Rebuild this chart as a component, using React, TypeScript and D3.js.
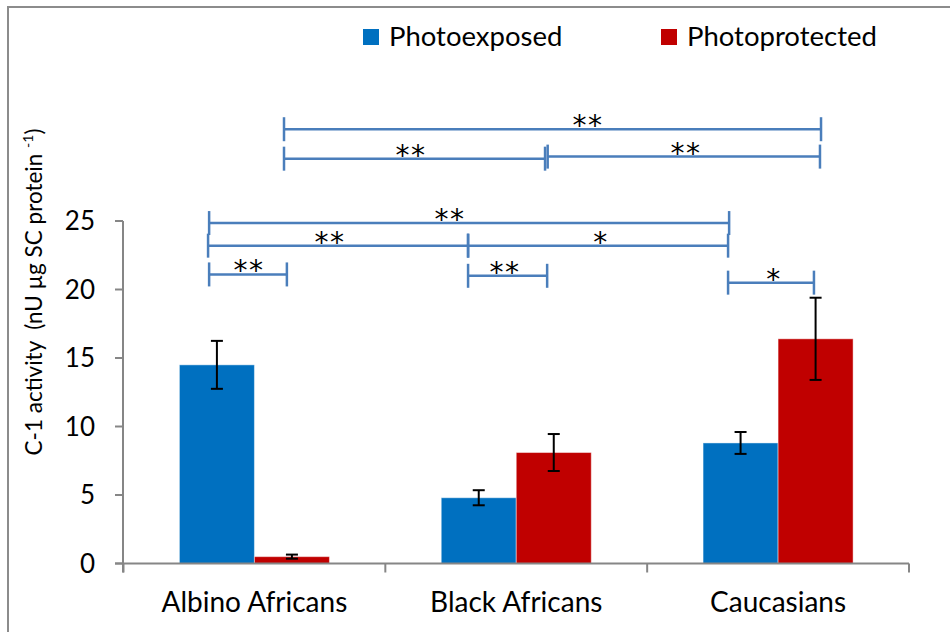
import * as d3 from 'd3';

const categories = ['Albino Africans', 'Black Africans', 'Caucasians'];
const seriesNames = ['Photoexposed', 'Photoprotected'];
const photoexposed = [14.5, 4.8, 8.8];
const photoexposedErr = [1.75, 0.55, 0.8];
const photoprotected = [0.5, 8.1, 16.4];
const photoprotectedErr = [0.15, 1.35, 3.0];
const yTicks = [0, 5, 10, 15, 20, 25];

// significance brackets: ends in category units (0..3), level in y units
const bracketFrom = [0.613, 0.613, 1.62, 0.327, 0.323, 1.316, 0.327, 1.316, 2.309];
const bracketTo = [2.664, 1.61, 2.66, 2.313, 1.316, 2.309, 0.624, 1.618, 2.637];
const bracketLevel = [31.7, 29.55, 29.7, 24.85, 23.2, 23.2, 21.1, 21.0, 20.5];
const bracketLabelAt = [1.774, 1.098, 2.148, 1.247, 0.789, 1.824, 0.479, 1.457, 2.484];
const bracketLabel = ['**', '**', '**', '**', '**', '*', '**', '**', '*'];

const colors = ['#0070C0', '#C00000'];
const FONT = 'Lato, "Open Sans", sans-serif';

export default function App() {
  const width = 950;
  const height = 632;

  const x = d3
    .scaleBand()
    .domain(categories)
    .range([123.5, 909])
    .paddingInner(0.427)
    .paddingOuter(0.2135);
  const xs = d3.scaleBand().domain(seriesNames).range([0, x.bandwidth()]);
  const y = d3.scaleLinear().domain([0, 25]).range([563.5, 221]);
  const pos = d3.scaleLinear().domain([0, categories.length]).range(x.range());

  const values = [photoexposed, photoprotected];
  const errs = [photoexposedErr, photoprotectedErr];
  const y0 = y(0);
  const gap = (x.step() - x.bandwidth()) / 2;
  const boundaries = categories.map((c) => (x(c) as number) - gap).concat([x.range()[1]]);

  return (
    <svg
      width={width}
      height={height}
      style={{ position: 'absolute', left: 0, top: 0, display: 'block', background: '#fff' }}
      fontFamily={FONT}
    >
      {/* frame */}
      <path d={`M8,${height}V7H${width}`} fill="none" stroke="#8c8c8c" strokeWidth={2} />

      {/* legend */}
      {seriesNames.map((s, i) => (
        <g key={s} transform={`translate(${i === 0 ? 363 : 661},0)`}>
          <rect x={0} y={29} width={16} height={16} fill={colors[i]} />
          <text x={26} y={46} fontSize={27.5} fill="#000">
            {s}
          </text>
        </g>
      ))}

      {/* bars */}
      {seriesNames.map((s, si) =>
        categories.map((c, ci) => {
          const bx = (x(c) as number) + (xs(s) as number);
          const v = values[si][ci];
          return (
            <rect
              key={`${s}-${c}`}
              x={bx}
              y={y(v)}
              width={xs.bandwidth()}
              height={y0 - y(v)}
              fill={colors[si]}
              stroke="#ffffff"
              strokeOpacity={0.45}
              strokeWidth={1}
            />
          );
        })
      )}

      {/* error bars */}
      {seriesNames.map((s, si) =>
        categories.map((c, ci) => {
          const cx = (x(c) as number) + (xs(s) as number) + xs.bandwidth() / 2;
          const v = values[si][ci];
          const e = errs[si][ci];
          const top = y(v + e);
          const bot = y(v - e);
          return (
            <g key={`err-${s}-${c}`} stroke="#000" strokeWidth={2}>
              <line x1={cx} x2={cx} y1={top} y2={bot} />
              <line x1={cx - 6} x2={cx + 6} y1={top} y2={top} />
              <line x1={cx - 6} x2={cx + 6} y1={bot} y2={bot} />
            </g>
          );
        })
      )}

      {/* axes */}
      <g stroke="#868686" strokeWidth={2} fill="none">
        <line x1={123} x2={123} y1={y(25)} y2={y0 + 9} />
        {yTicks.map((t) => (
          <line key={t} x1={115} x2={123} y1={y(t)} y2={y(t)} />
        ))}
        <line x1={115} x2={x.range()[1]} y1={y0} y2={y0} />
        {boundaries.map((b, i) => (
          <line key={i} x1={b} x2={b} y1={y0} y2={y0 + 9} />
        ))}
      </g>
      {yTicks.map((t) => (
        <text key={t} x={95} y={y(t)} dy="0.35em" textAnchor="end" fontSize={26} fill="#000">
          {t}
        </text>
      ))}

      {/* category labels */}
      {categories.map((c) => (
        <text
          key={c}
          x={(x(c) as number) + x.bandwidth() / 2}
          y={612}
          textAnchor="middle"
          fontSize={28}
          fill="#000"
        >
          {c}
        </text>
      ))}

      {/* y label */}
      <text
        transform="translate(42,292) rotate(-90)"
        textAnchor="middle"
        fontSize={22.5}
        fill="#000"
        style={{ whiteSpace: 'pre' }}
      >
        <tspan>{'C-1 activity  (nU µg SC protein '}</tspan>
        <tspan fontSize={14} dy={-9}>
          -1
        </tspan>
        <tspan dy={9}>)</tspan>
      </text>

      {/* significance brackets */}
      {bracketLabel.map((lab, i) => {
        const x1 = pos(bracketFrom[i]);
        const x2 = pos(bracketTo[i]);
        const ly = y(bracketLevel[i]);
        return (
          <g key={`br-${i}`}>
            <g stroke="#4A7EBB" strokeWidth={2.5} fill="none">
              <line x1={x1} x2={x2} y1={ly} y2={ly} />
              <line x1={x1} x2={x1} y1={ly - 12} y2={ly + 12} />
              <line x1={x2} x2={x2} y1={ly - 12} y2={ly + 12} />
            </g>
            <text
              x={pos(bracketLabelAt[i])}
              y={ly + 6}
              textAnchor="middle"
              fontFamily='"DejaVu Sans", sans-serif'
              fontSize={28}
              letterSpacing={1.5}
              fill="#000"
            >
              {lab}
            </text>
          </g>
        );
      })}
    </svg>
  );
}
